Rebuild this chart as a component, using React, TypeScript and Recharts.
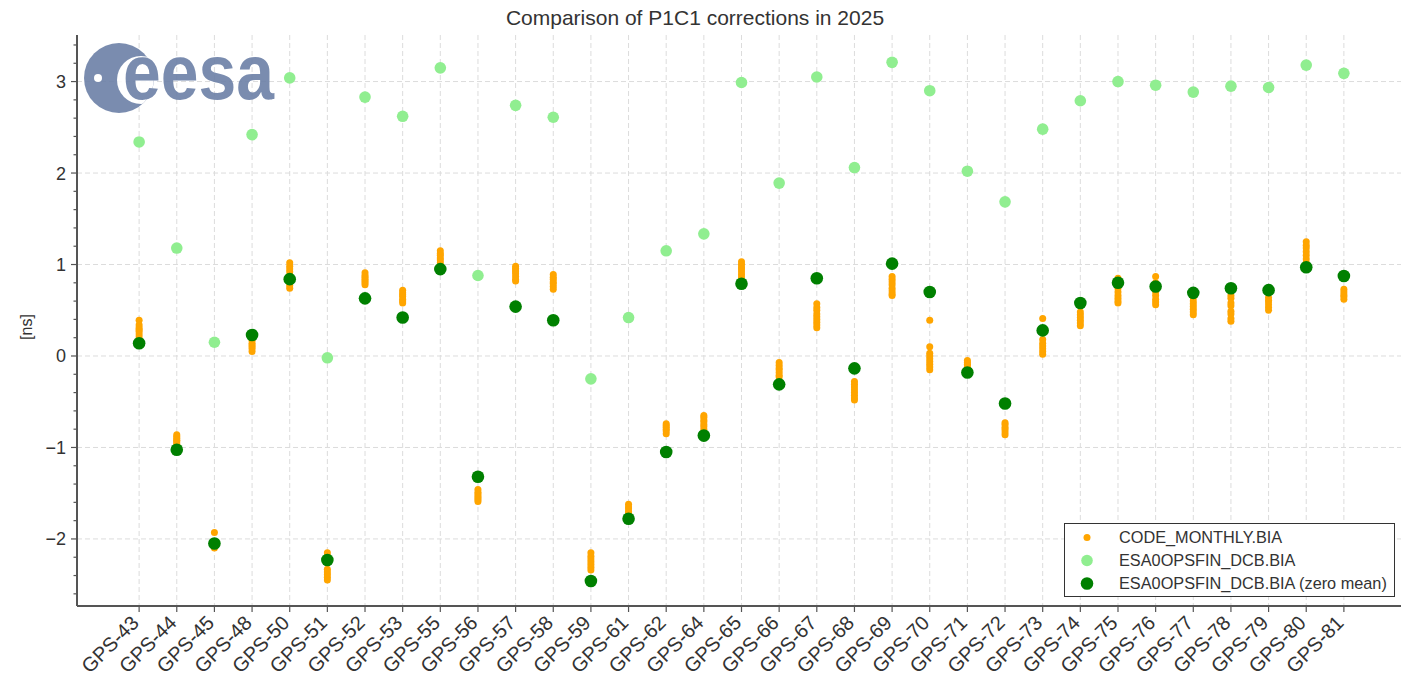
import React from 'react';
import {
  ScatterChart,
  Scatter,
  XAxis,
  YAxis,
  CartesianGrid,
  ReferenceLine,
  Legend,
} from 'recharts';

// satellites on the x axis
const satellites = [
  'GPS-43', 'GPS-44', 'GPS-45', 'GPS-48', 'GPS-50', 'GPS-51', 'GPS-52', 'GPS-53',
  'GPS-55', 'GPS-56', 'GPS-57', 'GPS-58', 'GPS-59', 'GPS-61', 'GPS-62', 'GPS-64',
  'GPS-65', 'GPS-66', 'GPS-67', 'GPS-68', 'GPS-69', 'GPS-70', 'GPS-71', 'GPS-72',
  'GPS-73', 'GPS-74', 'GPS-75', 'GPS-76', 'GPS-77', 'GPS-78', 'GPS-79', 'GPS-80',
  'GPS-81',
];

// CODE monthly values, one list per satellite [ns]
const codeMonthly = [
  [0.39, 0.34, 0.31, 0.29, 0.27, 0.24, 0.21, 0.18, 0.16],
  [-0.86, -0.88, -0.9, -0.92, -0.93, -0.95, -0.97, -1.0],
  [-1.93, -2.03, -2.05, -2.07, -2.08, -2.1],
  [0.22, 0.17, 0.14, 0.12, 0.1, 0.08, 0.05],
  [1.02, 0.98, 0.95, 0.92, 0.88, 0.85, 0.8, 0.77, 0.74],
  [-2.15, -2.19, -2.22, -2.33, -2.36, -2.39, -2.42, -2.45],
  [0.91, 0.88, 0.86, 0.84, 0.82, 0.8, 0.78],
  [0.72, 0.69, 0.67, 0.65, 0.62, 0.6, 0.58],
  [1.15, 1.12, 1.1, 1.07, 1.05, 1.02, 0.99],
  [-1.46, -1.49, -1.51, -1.53, -1.55, -1.57, -1.59],
  [0.98, 0.96, 0.94, 0.92, 0.9, 0.87, 0.84, 0.82],
  [0.89, 0.86, 0.84, 0.81, 0.79, 0.76, 0.73],
  [-2.15, -2.19, -2.22, -2.25, -2.28, -2.31, -2.34],
  [-1.62, -1.65, -1.67, -1.7, -1.72, -1.74],
  [-0.74, -0.76, -0.78, -0.8, -0.82, -0.85],
  [-0.65, -0.67, -0.7, -0.72, -0.75, -0.77, -0.8],
  [1.03, 1.0, 0.97, 0.95, 0.92, 0.89, 0.86],
  [-0.07, -0.1, -0.13, -0.15, -0.18, -0.21, -0.23],
  [0.57, 0.53, 0.5, 0.46, 0.43, 0.4, 0.37, 0.34, 0.31],
  [-0.28, -0.31, -0.34, -0.37, -0.4, -0.43, -0.46, -0.48],
  [0.87, 0.84, 0.81, 0.78, 0.74, 0.71, 0.68, 0.66],
  [0.39, 0.1, 0.03, 0.0, -0.03, -0.06, -0.09, -0.12, -0.15],
  [-0.05, -0.07, -0.09, -0.11, -0.13],
  [-0.73, -0.75, -0.78, -0.8, -0.83, -0.86],
  [0.41, 0.18, 0.14, 0.11, 0.08, 0.05, 0.02],
  [0.48, 0.45, 0.42, 0.39, 0.36, 0.33],
  [0.85, 0.78, 0.74, 0.7, 0.66, 0.63, 0.6, 0.58],
  [0.87, 0.8, 0.75, 0.7, 0.66, 0.62, 0.59, 0.56],
  [0.64, 0.6, 0.57, 0.54, 0.51, 0.48, 0.45],
  [0.66, 0.63, 0.58, 0.55, 0.49, 0.46, 0.41, 0.38],
  [0.64, 0.61, 0.59, 0.56, 0.53, 0.5],
  [1.25, 1.21, 1.18, 1.14, 1.1, 1.06, 1.02, 0.99],
  [0.73, 0.7, 0.67, 0.65, 0.62],
];

// ESA0OPSFIN_DCB.BIA values [ns]
const esaValues = [
  2.34, 1.18, 0.15, 2.42, 3.04, -0.02, 2.83, 2.62, 3.15, 0.88, 2.74, 2.61, -0.25,
  0.42, 1.15, 1.335, 2.99, 1.89, 3.05, 2.06, 3.21, 2.9, 2.02, 1.685, 2.48, 2.79,
  3.0, 2.96, 2.885, 2.95, 2.935, 3.18, 3.09,
];

// ESA0OPSFIN_DCB.BIA with mean removed [ns]
const esaZeroMean = [
  0.14, -1.025, -2.05, 0.23, 0.84, -2.23, 0.63, 0.42, 0.95, -1.32, 0.54, 0.39,
  -2.46, -1.78, -1.05, -0.87, 0.79, -0.31, 0.85, -0.135, 1.01, 0.7, -0.18, -0.52,
  0.28, 0.58, 0.8, 0.76, 0.69, 0.74, 0.72, 0.97, 0.875,
];

const yMajorTicks = [-2, -1, 0, 1, 2, 3];
const yAllTicks = [
  -2.6, -2.4, -2.2, -2, -1.8, -1.6, -1.4, -1.2, -1, -0.8, -0.6, -0.4, -0.2, 0,
  0.2, 0.4, 0.6, 0.8, 1, 1.2, 1.4, 1.6, 1.8, 2, 2.2, 2.4, 2.6, 2.8, 3, 3.2, 3.4,
];

const FONT = '"Liberation Sans", Arial, Helvetica, sans-serif';
const TEXT = '#333';
const SPINE = '#555';

const COLORS = {
  code: '#FFA500',
  esa: '#90EE90',
  zero: '#008000',
};

const RADIUS: Record<string, number> = {
  'CODE_MONTHLY.BIA': 3.5,
  'ESA0OPSFIN_DCB.BIA': 5.8,
  'ESA0OPSFIN_DCB.BIA (zero mean)': 6.3,
};

const codeData = codeMonthly.flatMap((vals, i) => vals.map((v) => ({ x: i, y: v })));
const esaData = esaValues.map((v, i) => ({ x: i, y: v }));
const zeroData = esaZeroMean.map((v, i) => ({ x: i, y: v }));
const xTicks = satellites.map((_, i) => i);

const dot = (r: number, color: string) => (props: any) =>
  <circle cx={props.cx} cy={props.cy} r={r} fill={color} />;

function XTick({ x, y, payload }: any) {
  const ax = x + 1;
  const ay = y + 10;
  return (
    <text
      x={ax}
      y={ay}
      transform={`rotate(-45 ${ax} ${ay})`}
      textAnchor="end"
      fontSize={20}
      fill={TEXT}
      fontFamily={FONT}
    >
      {satellites[payload.value]}
    </text>
  );
}

function YTick({ x, y, payload }: any) {
  const v = payload.value;
  const major = Math.abs(v - Math.round(v)) < 1e-6;
  const spine = x + 8;
  const label = v < 0 ? '\u2212' + Math.abs(Math.round(v)) : String(Math.round(v));
  return (
    <g>
      <line x1={spine} x2={spine - (major ? 6 : 3.5)} y1={y} y2={y} stroke={SPINE} strokeWidth={1.2} />
      {major && (
        <text x={spine - 11} y={y} dy="0.36em" textAnchor="end" fontSize={18} fill={TEXT} fontFamily={FONT}>
          {label}
        </text>
      )}
    </g>
  );
}

function LegendBox({ payload }: any) {
  return (
    <div
      style={{
        boxSizing: 'border-box',
        width: 331,
        height: 74,
        border: '1.3px solid #333',
        background: '#fff',
        paddingTop: 2,
        fontFamily: FONT,
        fontSize: 16.3,
        color: TEXT,
      }}
    >
      {(payload || []).map((entry: any) => (
        <div key={entry.value} style={{ display: 'flex', alignItems: 'center', height: 23 }}>
          <svg width={54} height={23} style={{ flexShrink: 0 }}>
            <circle cx={22} cy={11.5} r={RADIUS[entry.value] ?? 4} fill={entry.color} />
          </svg>
          <span style={{ whiteSpace: 'nowrap' }}>{entry.value}</span>
        </div>
      ))}
    </div>
  );
}

function Overlay() {
  const logo = '#6c80a7';
  return (
    <svg
      width={1401}
      height={678}
      style={{ position: 'absolute', left: 0, top: 0, pointerEvents: 'none' }}
    >
      <defs>
        <clipPath id="esaDisc">
          <circle cx={119} cy={78} r={35} />
        </clipPath>
      </defs>
      <text x={695} y={25} textAnchor="middle" fontSize={21} fill={TEXT} fontFamily={FONT}>
        Comparison of P1C1 corrections in 2025
      </text>
      <text
        x={0}
        y={0}
        transform="translate(32 327) rotate(-90)"
        textAnchor="middle"
        fontSize={16}
        fill={TEXT}
        fontFamily={FONT}
      >
        [ns]
      </text>
      <g opacity={0.9}>
        <circle cx={119} cy={78} r={35} fill={logo} />
        <circle cx={141} cy={80} r={24} fill="#fff" clipPath="url(#esaDisc)" />
        <circle cx={98} cy={78} r={4} fill="#fff" />
        <text x={123} y={99} fontSize={78} fontWeight="bold" fill={logo} fontFamily={FONT} textLength={151} lengthAdjust="spacingAndGlyphs">
          eesa
        </text>
      </g>
    </svg>
  );
}

export default function App() {
  return (
    <div
      style={{
        position: 'absolute',
        left: 0,
        top: 0,
        width: 1401,
        height: 678,
        overflow: 'hidden',
        background: '#fff',
      }}
    >
      <ScatterChart width={1406} height={678} margin={{ top: 35, right: 0, bottom: 0, left: 0 }}>
        <CartesianGrid horizontal={false} stroke="#dcdcdc" strokeDasharray="5 3" />
        {yMajorTicks.map((t) => (
          <ReferenceLine key={t} y={t} stroke="#dcdcdc" strokeDasharray="5 3" />
        ))}
        <XAxis
          type="number"
          dataKey="x"
          domain={[-1.65, 33.65]}
          ticks={xTicks}
          interval={0}
          allowDataOverflow
          height={72}
          tickSize={6}
          tickMargin={2}
          tick={<XTick />}
          tickLine={{ stroke: SPINE, strokeWidth: 1.2 }}
          axisLine={{ stroke: SPINE, strokeWidth: 2 }}
        />
        <XAxis
          xAxisId="top"
          orientation="top"
          type="number"
          domain={[0, 1]}
          height={0}
          tick={false}
          tickLine={false}
          axisLine={{ stroke: SPINE, strokeWidth: 2 }}
        />
        <YAxis
          type="number"
          dataKey="y"
          domain={[-2.733, 3.509]}
          ticks={yAllTicks}
          interval={0}
          allowDataOverflow
          width={77}
          tickSize={6}
          tickMargin={2}
          tick={<YTick />}
          tickLine={false}
          axisLine={{ stroke: SPINE, strokeWidth: 2 }}
        />
        <Legend
          layout="horizontal"
          align="center"
          verticalAlign="middle"
          content={<LegendBox />}
          wrapperStyle={{ left: 1064, top: 523, width: 331, height: 74 }}
        />
        <Scatter
          name="CODE_MONTHLY.BIA"
          data={codeData}
          fill={COLORS.code}
          shape={dot(3.5, COLORS.code)}
          isAnimationActive={false}
        />
        <Scatter
          name="ESA0OPSFIN_DCB.BIA"
          data={esaData}
          fill={COLORS.esa}
          shape={dot(5.8, COLORS.esa)}
          isAnimationActive={false}
        />
        <Scatter
          name="ESA0OPSFIN_DCB.BIA (zero mean)"
          data={zeroData}
          fill={COLORS.zero}
          shape={dot(6.3, COLORS.zero)}
          isAnimationActive={false}
        />
      </ScatterChart>
      <Overlay />
    </div>
  );
}
